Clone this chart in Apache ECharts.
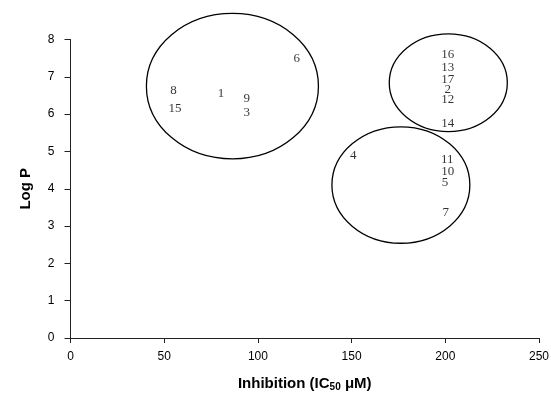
<!DOCTYPE html>
<html><head><meta charset="utf-8">
<script src="https://cdn.jsdelivr.net/npm/echarts@6/dist/echarts.min.js"></script>
<style>html,body{margin:0;padding:0;background:#fff}#c{width:551px;height:395px}</style>
</head><body><div id="c"></div>
<script>
// Compounds: label, inhibition IC50 (µM), Log P
const compoundIds = ['1','2','3','4','5','6','7','8','9','10','11','12','13','14','15','16','17'];
const inhibition  = [80.3, 201.3, 94.0, 150.9, 199.8, 120.7, 200.2, 54.9, 94.0, 201.3, 201.1, 201.3, 201.3, 201.3, 55.8, 201.3, 201.3];
const logP        = [6.56, 6.67, 6.05, 4.89, 4.17, 7.50, 3.35, 6.63, 6.41, 4.46, 4.77, 6.38, 7.25, 5.76, 6.16, 7.59, 6.92];

// Cluster ellipses (data units): centre x, centre y, half-width, half-height
const clusterCx = [86.4, 201.6, 176.3];
const clusterCy = [6.75, 6.84, 4.10];
const clusterRx = [45.9, 31.5, 36.8];
const clusterRy = [1.95, 1.31, 1.56];

const xMin = 0, xMax = 250, xStep = 50;
const yMin = 0, yMax = 8, yStep = 1;

const pts = compoundIds.map((id, i) => ({ name: id, value: [inhibition[i], logP[i]] }));
const clusters = clusterCx.map((cx, i) => [cx, clusterCy[i], clusterRx[i], clusterRy[i]]);

const chart = echarts.init(document.getElementById('c'));
const axisCol = '#222';
chart.setOption({
  animation: false,
  backgroundColor: '#fff',
  grid: { left: 70.5, right: 12, top: 39.5, bottom: 57, containLabel: false, outerBoundsMode: 'none' },
  xAxis: {
    type: 'value', min: xMin, max: xMax, interval: xStep,
    splitLine: { show: false },
    axisLine: { lineStyle: { color: axisCol, width: 1 } },
    axisTick: { show: true, length: 5, lineStyle: { color: axisCol } },
    axisLabel: { margin: 13, color: '#000', fontFamily: 'Liberation Sans', fontSize: 12 },
    name: '{a|Inhibition (IC}{s|50}{a| μM)}',
    nameLocation: 'middle', nameGap: 38,
    nameTextStyle: {
      rich: {
        a: { fontFamily: 'Liberation Sans', fontWeight: 'bold', fontSize: 15, color: '#000' },
        s: { fontFamily: 'Liberation Sans', fontWeight: 'bold', fontSize: 10, color: '#000', verticalAlign: 'bottom', padding: [6, 0, 0, 0] }
      }
    }
  },
  yAxis: {
    type: 'value', min: yMin, max: yMax, interval: yStep,
    splitLine: { show: false },
    axisLine: { show: true, lineStyle: { color: axisCol, width: 1 } },
    axisTick: { show: true, length: 6, lineStyle: { color: axisCol } },
    axisLabel: { margin: 16, color: '#000', fontFamily: 'Liberation Sans', fontSize: 12 },
    name: 'Log P', nameLocation: 'middle', nameGap: 37,
    nameTextStyle: { fontFamily: 'Liberation Sans', fontWeight: 'bold', fontSize: 15, color: '#000' }
  },
  series: [
    {
      type: 'custom',
      clip: false,
      data: clusters,
      encode: { x: 0, y: 1 },
      renderItem: function (params, api) {
        const c = api.coord([api.value(0), api.value(1)]);
        const s = api.size([api.value(2), api.value(3)]);
        return {
          type: 'ellipse',
          shape: { cx: c[0], cy: c[1], rx: s[0], ry: s[1] },
          style: { fill: 'none', stroke: '#000', lineWidth: 1.3 }
        };
      },
      silent: true
    },
    {
      type: 'scatter',
      data: pts,
      symbol: 'circle',
      symbolSize: 1,
      itemStyle: { color: 'rgba(0,0,0,0)' },
      label: {
        show: true, position: 'inside', formatter: '{b}',
        fontFamily: 'Liberation Serif', fontSize: 13, color: '#000'
      }
    }
  ]
});
</script>
</body></html>
